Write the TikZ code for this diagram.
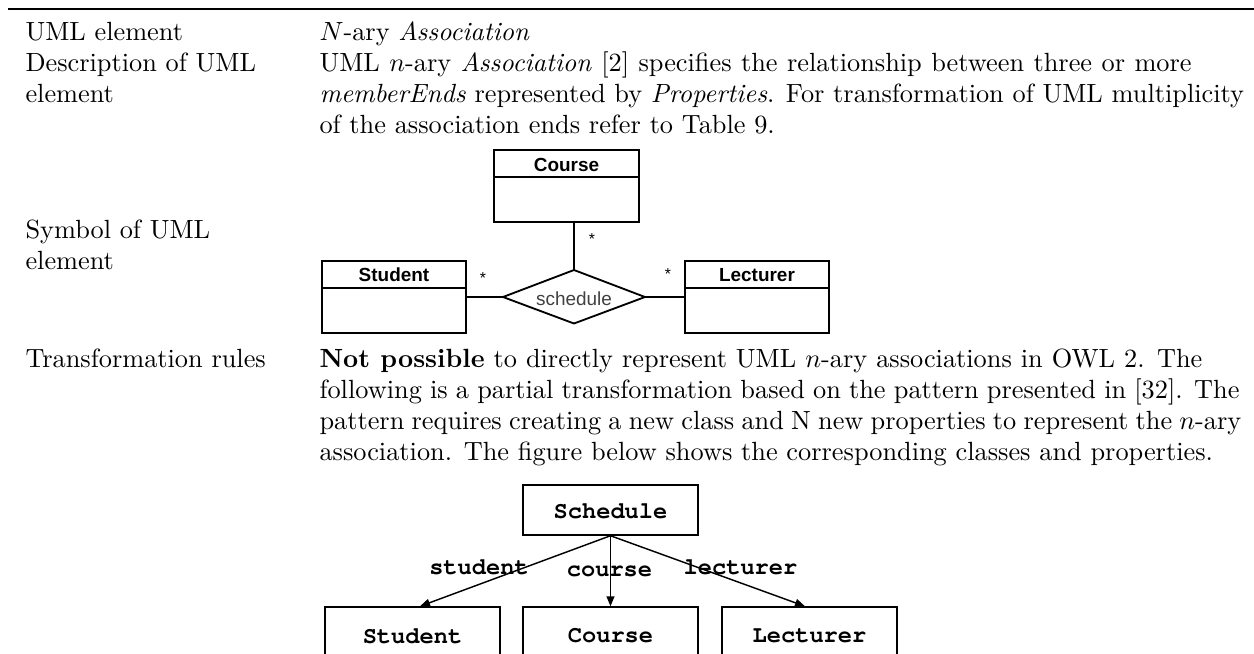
\documentclass[tikz,border=0pt]{standalone}
\usepackage[T1]{fontenc}
\usepackage{fontspec}
\usetikzlibrary{fit,calc,arrows.meta}
\newfontfamily\umlsans{Liberation Sans}
\newcommand\courfont{\fontencoding{T1}\fontfamily{pcr}\fontseries{b}\selectfont}
\newcommand\jline[2]{\makebox[#1][s]{#2}}
\begin{document}
\begin{tikzpicture}[x=0.38pt,y=-0.38pt,
  txt/.style={anchor=base west,inner sep=0pt,font=\fontsize{10}{12}\selectfont},
  umlbox/.style={draw,line width=0.7pt,inner sep=0pt},
  umlline/.style={line width=0.7pt},
  umlname/.style={font=\umlsans\bfseries\fontsize{7.2}{8}\selectfont,inner sep=0pt},
  assocname/.style={font=\umlsans\fontsize{7.2}{8}\selectfont,text=black!75,inner sep=0pt},
  mult/.style={font=\umlsans\fontsize{6}{7}\selectfont,inner sep=0pt},
  owlbox/.style={draw,line width=0.55pt,inner sep=0pt},
  owltxt/.style={font=\courfont\fontsize{9}{10}\selectfont,inner sep=0pt},
  owlarrow/.style={line width=0.55pt,-{Triangle[length=3.8pt,width=3pt]}}]
\clip (0,0) rectangle (1254,653);
% top rule
\draw[line width=1pt] (8,9) -- (1254,9);
% table text
\node[txt] (l1) at (25,40) {UML element};
\node[txt] (r1) at (319,40) {$N$-ary \textit{Association}};
\node[txt] (l2a) at (25,71) {Description of UML};
\node[txt] (l2b) at (25,102) {element};
\node[txt] (r2a) at (319,71) {\jline{331.4pt}{UML $n$-ary \textit{Association} [2] specifies the relationship between three or more}};
\node[txt] (r2b) at (319,102) {\textit{memberEnds} represented by \textit{Properties}. For transformation of UML multiplicity};
\node[txt] (r2c) at (319,133) {of the association ends refer to Table 9.};
\node[txt] (l3a) at (25,238) {Symbol of UML};
\node[txt] (l3b) at (25,269) {element};
\node[txt] (l4) at (25,367) {Transformation rules};
\node[txt] (r4a) at (319,367) {\jline{335.5pt}{\textbf{Not possible} to directly represent UML $n$-ary associations in OWL 2. The}};
\node[txt] (r4b) at (319,398) {\jline{349.6pt}{following is a partial transformation based on the pattern presented in [32]. The}};
\node[txt] (r4c) at (319,429) {\jline{350.3pt}{pattern requires creating a new class and N new properties to represent the $n$-ary}};
\node[txt] (r4d) at (319,460) {association. The figure below shows the corresponding classes and properties.};
% UML n-ary association symbol
\node[umlbox, fit={(494,150) (639,222)}] (course) {};
\draw[umlline] (course.west |- 0,177) -- (course.east |- 0,177);
\node[umlname] (coursename) at (566.5,164.5) {Course};
\node[umlbox, fit={(322,261) (466,333)}] (student) {};
\draw[umlline] (student.west |- 0,288) -- (student.east |- 0,288);
\node[umlname] (studentname) at (394,275) {Student};
\node[umlbox, fit={(685,261) (829,333)}] (lecturer) {};
\draw[umlline] (lecturer.west |- 0,288) -- (lecturer.east |- 0,288);
\node[umlname] (lecturername) at (757,275) {Lecturer};
\coordinate (dT) at (574,270);
\coordinate (dR) at (645,297);
\coordinate (dB) at (574,323.5);
\coordinate (dL) at (503,297);
\draw[umlline, line join=miter] (dT) -- (dR) -- (dB) -- (dL) -- cycle;
\node[assocname] (schedname) at (574,299) {schedule};
\draw[umlline] (dT) -- (dT |- course.south);
\draw[umlline] (dL) -- (dL -| student.east);
\draw[umlline] (dR) -- (dR -| lecturer.west);
\node[mult] (m1) at (592,239) {*};
\node[mult] (m2) at (483,278) {*};
\node[mult] (m3) at (668,274) {*};
% OWL pattern
\node[owlbox, fit={(523,485) (698,535)}] (sched) {};
\node[owltxt] (schedtxt) at (610.5,511) {Schedule};
\node[owlbox, fit={(325,607) (500,660)}] (stud2) {};
\node[owltxt] (stud2txt) at (412.5,636) {Student};
\node[owlbox, fit={(523,607) (698,660)}] (course2) {};
\node[owltxt] (course2txt) at (610.5,636) {Course};
\node[owlbox, fit={(722,607) (897,660)}] (lect2) {};
\node[owltxt] (lect2txt) at (809.5,636) {Lecturer};
\draw[owlarrow] (sched.south) -- ($(stud2.north)+(7.5,0)$);
\draw[owlarrow] (sched.south) -- (course2.north);
\draw[owlarrow] (sched.south) -- ($(lect2.north)+(-4.5,0)$);
\node[owltxt] (lbl1) at (479,567) {student};
\node[owltxt] (lbl2) at (609.5,571) {course};
\node[owltxt] (lbl3) at (740.5,567) {lecturer};
\end{tikzpicture}
\end{document}
